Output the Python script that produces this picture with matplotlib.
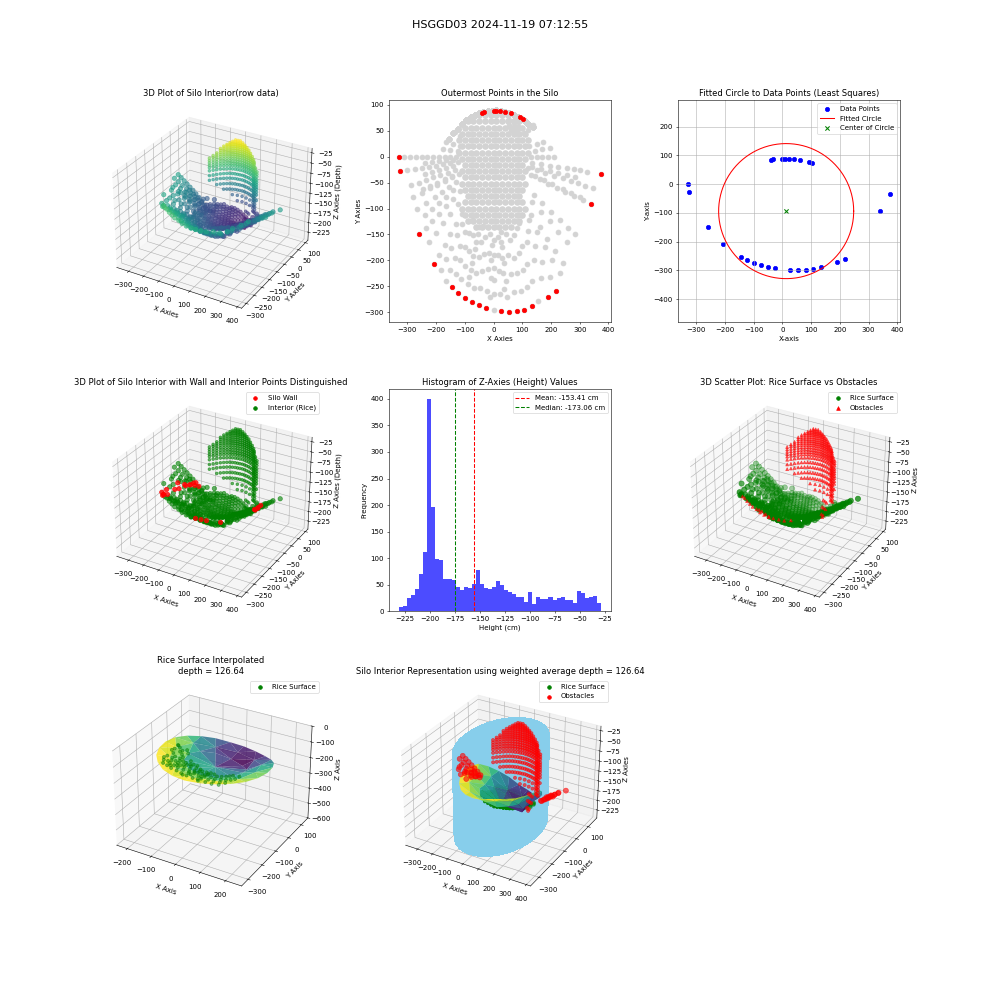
import numpy as np
import matplotlib
matplotlib.use("Agg")
import matplotlib.pyplot as plt

# back wall of the silo: points around the arc, and which of them show at each height
arc_x = [-155,-140,-125,-110,-95,-80,-65,-50,-35,-20,-5,10,25,40,55,70,85,100,108,120,136]
arc_y = [35,45,54,63,70,76,81,84,87,88,89,90,89,87,85,81,77,72,68,64,58]
arc_levels = [-29,-33,-37,-41,-45,-50,-55,-60,-65,-70,-76,-82,-88,-94,-102,-114,-126,-140,-154,-168,-182]
arc_start = [8,7,6,5,4,3,3,2,1,0,0,0,0,0,0,0,0,2,4,7,9]
arc_stop = [11,12,13,14,15,16,17,18,19,19,20,21,21,21,21,21,21,21,21,21,21]
arc_step = [1,1,1,1,1,1,1,1,1,1,1,1,1,1,1,1,1,1,1,2,2]

# extra wall points, the dense right edge and the pit below it
pit_x = [100,108,120,136,100,108,120,136,100,108,120,136,100,108,120,100,108,120,
    100,108,120,100,108,120,55,70,85,55,70,85,60,75,68]
pit_y = [72,68,64,58,72,68,64,58,72,68,64,58,72,68,64,72,68,64,
    72,68,64,72,68,64,70,65,60,62,58,54,52,48,50]
pit_z = [-108,-108,-108,-108,-120,-120,-120,-120,-133,-133,-133,-133,-147,-147,-147,-161,-161,-161,
    -175,-175,-175,-190,-190,-190,-195,-195,-195,-210,-210,-210,-225,-225,-231]

# scan rays running out from the middle to the rim
rim_x = [-329,-310,-290,-270,-250,-230,-210,-190,-170,-150,-130,
    -325,-300,-275,-250,-225,-200,-175,-150,-125,
    -287,-260,-235,-210,-185,-160,-135,
    -280,-250,-220,-195,-170,-145,-120,
    -265,-235,-205,-180,-155,-130,
    -260,-235,-215,-190,-165,-140,-115,
    -207,-190,-170,-150,-130,-110,
    -182,-165,-147,-128,-110,
    -144,-130,-115,-100,-85,-70,
    -124,-112,-100,-86,-72,
    -100,-90,-80,-70,-60,-50,
    -75,-68,-60,-52,-44,-36,
    -51,-46,-40,-34,-28,
    -27,-24,-20,-17,-14,
    0,0,0,0,0,0,
    25,24,20,17,14,
    53,48,42,36,30,25,
    81,72,62,52,42,
    105,95,82,70,58,
    133,118,103,88,72,
    189,165,140,115,90,
    217,195,170,145,120,95,
    243,215,187,160,132,
    285,260,230,200,170,140,
    338,310,280,250,220,190,160,130,
    345,320,295,270,240,210,180,150,120,
    374,325,300,280,255,225,195,165,135,
    210,190,170,150,130,
    -176,-150,-125,-165,-140,-115,-135,-115,
    195,170,145,171,150,125,136,120,105,
    -240,-215,-190,-165,-140,
    -240,-215,-190,-165,-140,
    -245,-220,-195,-170,-145,
    -240,-215,-190,-165,-140,
    -225,-200,-175,-150,-125,
    -165,-150,-135,-118,-100,
    285,255,225,195,165,135,
    300,270,240,205,175,145,
    255,225,195,165,135,
    230,205,180,150,125,
    155,135,118,100,82,
    -12,-10,-8,-6,
    38,34,30,26,
    -85,-75,-65,-55]
rim_y = [-1,0,0,0,0,0,0,0,0,0,0,
    -28,-26,-24,-21,-19,-17,-15,-13,-11,
    -55,-50,-45,-40,-35,-31,-26,
    -78,-70,-61,-54,-47,-40,-33,
    -100,-89,-77,-68,-58,-49,
    -150,-137,-125,-110,-96,-81,-67,
    -208,-190,-170,-150,-130,-110,
    -219,-198,-176,-152,-130,
    -252,-226,-200,-174,-148,-122,
    -264,-236,-211,-182,-152,
    -273,-245,-218,-191,-164,-136,
    -281,-254,-224,-194,-164,-134,
    -287,-254,-221,-188,-155,
    -293,-260,-216,-185,-150,
    -295,-265,-238,-215,-190,-160,
    -298,-265,-220,-190,-155,
    -300,-270,-240,-205,-175,-145,
    -298,-262,-226,-190,-150,
    -295,-260,-225,-195,-160,
    -289,-252,-218,-186,-152,
    -271,-235,-200,-165,-128,
    -260,-232,-203,-173,-143,-113,
    -205,-182,-158,-135,-112,
    -150,-137,-122,-106,-90,-74,
    -92,-84,-76,-68,-60,-52,-43,-35,
    -60,-56,-51,-47,-42,-37,-31,-26,-21,
    -34,-29,-26,-24,-22,-20,-17,-14,-12,
    0,0,0,0,0,
    15,13,11,29,25,21,48,40,
    16,14,12,29,25,21,61,52,45,
    -12,-10,-8,-7,-6,
    -33,-29,-25,-22,-18,
    -62,-56,-50,-43,-37,
    -112,-100,-89,-77,-65,
    -165,-147,-128,-110,-92,
    -240,-218,-196,-172,-146,
    -40,-36,-32,-28,-23,-19,
    -78,-70,-62,-53,-45,-38,
    -165,-145,-125,-106,-87,
    -225,-200,-175,-146,-122,
    -278,-240,-208,-172,-138,
    -270,-235,-200,-170,
    -255,-225,-195,-165,
    -232,-205,-178,-150]
rim_z = [-118,-124,-130,-136,-142,-148,-155,-162,-170,-178,-186,
    -118,-125,-132,-139,-147,-155,-163,-172,-182,
    -122,-130,-138,-147,-156,-166,-177,
    -120,-130,-140,-150,-160,-170,-182,
    -118,-128,-140,-150,-162,-174,
    -112,-122,-130,-141,-152,-164,-176,
    -108,-118,-130,-142,-154,-166,
    -106,-118,-130,-144,-158,
    -92,-108,-122,-136,-150,-164,
    -90,-106,-120,-136,-152,
    -88,-104,-120,-136,-150,-166,
    -90,-104,-120,-137,-153,-170,
    -92,-110,-128,-146,-164,
    -94,-112,-135,-152,-170,
    -96,-112,-126,-138,-152,-168,
    -100,-116,-138,-154,-172,
    -102,-118,-132,-150,-165,-180,
    -104,-122,-140,-158,-176,
    -106,-124,-142,-157,-174,
    -108,-126,-144,-160,-176,
    -110,-130,-148,-166,-184,
    -114,-128,-144,-160,-176,-190,
    -120,-136,-150,-165,-180,
    -118,-130,-144,-158,-172,-186,
    -122,-130,-140,-150,-160,-170,-180,-190,
    -122,-130,-138,-147,-156,-166,-176,-186,-195,
    -120,-132,-140,-146,-153,-163,-173,-183,-193,
    -170,-178,-186,-194,-200,
    -170,-182,-194,-172,-184,-196,-178,-190,
    -178,-190,-200,-180,-192,-202,-190,-198,-205,
    -145,-153,-161,-170,-180,
    -143,-151,-159,-168,-178,
    -135,-145,-155,-165,-175,
    -125,-137,-148,-158,-170,
    -118,-130,-143,-155,-168,
    -100,-114,-126,-140,-156,
    -140,-149,-159,-168,-178,-188,
    -132,-142,-152,-164,-174,-185,
    -125,-140,-153,-166,-180,
    -122,-134,-147,-162,-176,
    -112,-132,-150,-168,-182,
    -108,-124,-145,-162,
    -124,-136,-152,-170,
    -112,-126,-142,-158]

# rice floor, one line per y value
floor_x = [-50,-30,-10,10,30,50,
    -90,-70,-50,-30,-10,10,30,50,70,90,
    -100,-80,-60,-40,-20,0,20,40,60,80,100,
    -110,-90,-70,-50,-30,-10,10,30,50,70,90,110,
    -120,-100,-80,-60,-40,-20,0,20,40,60,80,100,120,
    -110,-90,-70,-50,-30,-10,10,30,50,70,90,110,
    -120,-100,-80,-60,-40,-20,0,20,40,60,80,100,120,
    -110,-90,-70,-50,-30,-10,10,30,50,70,90,110,
    -100,-80,-60,-40,-20,0,20,40,60,80,100,
    -110,-90,-70,-50,-30,-10,10,30,50,70,90,110,
    -100,-80,-60,-40,-20,0,20,40,60,80,100,
    -110,-90,-70,-50,-30,-10,10,30,50,70,90,110,
    -100,-80,-60,-40,-20,0,20,40,60,80,100,
    -90,-70,-50,-30,-10,10,30,50,70,90,
    -100,-80,-60,-40,-20,0,20,40,60,80,100,
    -110,-90,-70,-50,-30,-10,10,30,50,70,90,110,
    -100,-80,-60,-40,-20,0,20,40,60,80,100,
    -90,-70,-50,-30,-10,10,30,50,70,90,
    -60,-40,-20,0,20,40,60]
floor_y = [80,80,80,80,80,80,
    68,68,68,68,68,68,68,68,68,68,
    56,56,56,56,56,56,56,56,56,56,56,
    44,44,44,44,44,44,44,44,44,44,44,44,
    32,32,32,32,32,32,32,32,32,32,32,32,32,
    20,20,20,20,20,20,20,20,20,20,20,20,
    8,8,8,8,8,8,8,8,8,8,8,8,8,
    -4,-4,-4,-4,-4,-4,-4,-4,-4,-4,-4,-4,
    -16,-16,-16,-16,-16,-16,-16,-16,-16,-16,-16,
    -28,-28,-28,-28,-28,-28,-28,-28,-28,-28,-28,-28,
    -40,-40,-40,-40,-40,-40,-40,-40,-40,-40,-40,
    -52,-52,-52,-52,-52,-52,-52,-52,-52,-52,-52,-52,
    -64,-64,-64,-64,-64,-64,-64,-64,-64,-64,-64,
    -76,-76,-76,-76,-76,-76,-76,-76,-76,-76,
    -88,-88,-88,-88,-88,-88,-88,-88,-88,-88,-88,
    -100,-100,-100,-100,-100,-100,-100,-100,-100,-100,-100,-100,
    -112,-112,-112,-112,-112,-112,-112,-112,-112,-112,-112,
    -124,-124,-124,-124,-124,-124,-124,-124,-124,-124,
    -136,-136,-136,-136,-136,-136,-136]
floor_z = [-200,-200,-202,-205,-210,-215,
    -192,-196,-198,-200,-202,-205,-210,-216,-222,-218,
    -190,-194,-197,-199,-201,-204,-208,-215,-224,-222,-212,
    -186,-190,-194,-198,-200,-202,-206,-212,-222,-224,-214,-205,
    -182,-188,-192,-196,-199,-201,-204,-210,-218,-220,-212,-204,-198,
    -184,-190,-194,-198,-200,-202,-206,-212,-216,-210,-204,-198,
    -180,-186,-190,-195,-198,-200,-202,-206,-210,-208,-203,-198,-194,
    -182,-188,-192,-196,-199,-200,-202,-204,-205,-202,-198,-194,
    -182,-186,-191,-195,-198,-199,-200,-201,-200,-197,-192,
    -178,-182,-187,-191,-194,-197,-198,-199,-199,-197,-193,-188,
    -178,-184,-188,-192,-195,-196,-197,-197,-196,-192,-188,
    -172,-176,-182,-186,-190,-193,-194,-195,-195,-193,-189,-184,
    -172,-177,-182,-187,-190,-192,-193,-193,-191,-188,-184,
    -170,-175,-180,-184,-187,-189,-190,-189,-187,-183,
    -162,-166,-172,-177,-181,-184,-186,-186,-184,-181,-176,
    -158,-163,-168,-173,-177,-180,-182,-182,-181,-178,-174,-170,
    -160,-164,-168,-172,-175,-177,-178,-178,-176,-172,-168,
    -158,-162,-166,-170,-173,-174,-174,-172,-168,-164,
    -166,-168,-170,-172,-171,-169,-166]

# outermost points, used by the 2D panels
outer_x = [-40,-32,0,8,22,39,60,92,102,-329,-325,374,338,-260,-207,-144,-124,-100,-75,-51,-27,25,53,81,105,133,189,217]
outer_y = [85,87,89,89,89,87,84,76,72,-1,-28,-34,-92,-150,-208,-252,-264,-273,-281,-287,-293,-298,-300,-298,-295,-289,-271,-260]

# fitted circle
circle_cx = 13
circle_cy = -94
circle_r = 235

# height histogram
hist_left = -231
hist_right = -29
hist_counts = [7,10,25,31,42,70,111,399,196,99,97,61,61,59,46,40,46,44,52,78,52,44,42,46,57,
    50,40,36,33,27,27,17,36,14,27,23,23,27,21,25,27,21,21,16,38,34,25,27,29,15]
z_mean = -153.41
z_median = -173.06
# where the two dashed lines sit on the axis in the picture
mean_line_x = -155.7
median_line_x = -175.4
avg_depth = 126.64

# interpolated rice surface
surf_x = [218,211,190,158,116,66,13,-40,-90,-132,-165,-185,-192,-185,-165,-132,-90,-40,13,66,116,158,190,211,
    173,152,93,13,-67,-126,-147,-126,-67,13,93,152,
    123,108,68,13,-42,-82,-97,-82,-42,13,68,108,13]
surf_y = [-94,-41,9,51,84,104,111,104,84,51,9,-41,-94,-147,-197,-239,-272,-292,-299,-292,-272,-239,-197,-147,
    -94,-14,45,66,45,-14,-94,-174,-233,-254,-233,-174,
    -94,-39,1,16,1,-39,-94,-149,-189,-204,-189,-149,-94]
surf_z = [-125,-135,-155,-180,-200,-205,-200,-190,-170,-150,-130,-112,-104,-100,-100,-100,-102,-102,-102,-100,-100,-105,-112,-118,
    -140,-165,-205,-205,-190,-145,-120,-115,-115,-118,-120,-130,
    -165,-195,-220,-210,-185,-160,-140,-132,-135,-140,-150,-155,-178]

dome_x, dome_y, dome_z = list(pit_x), list(pit_y), list(pit_z)
for level, start, stop, step in zip(arc_levels, arc_start, arc_stop, arc_step):
    dome_x += arc_x[start:stop:step]
    dome_y += arc_y[start:stop:step]
    dome_z += [level] * len(arc_x[start:stop:step])

x = np.array(dome_x + rim_x + floor_x, dtype=float)
y = np.array(dome_y + rim_y + floor_y, dtype=float)
z = np.array(dome_z + rim_z + floor_z, dtype=float)
n_dome, n_rim = len(dome_x), len(rim_x)
dist = np.hypot(x - circle_cx, y - circle_cy)

is_dome = np.zeros(len(x), dtype=bool)
is_dome[:n_dome] = True
is_rim = np.zeros(len(x), dtype=bool)
is_rim[n_dome:n_dome + n_rim] = True
is_floor = ~is_dome & ~is_rim

sizes = np.full(len(x), 28.0)
sizes[is_dome] = 16
sizes[is_rim] = 40

wall = np.abs(dist - circle_r) < 14
obstacles = is_dome | (y < -262)
outside = is_dome | ((dist > 225) & (y > -120))


def add_legend(ax, flip=False):
    handles, labels = ax.get_legend_handles_labels()
    if flip:
        handles, labels = handles[::-1], labels[::-1]
    leg = ax.legend(handles, labels, loc="upper right")
    for h in leg.legend_handles:
        h.set_sizes([28])
        h.set_alpha(1)


fig = plt.figure(figsize=(20, 20), dpi=50)
fig.suptitle("HSGGD03 2024-11-19 07:12:55", fontsize=16)
fig.subplots_adjust(left=0.1, right=0.9, top=0.9, bottom=0.1, wspace=0.3, hspace=0.3)

# raw data
ax = fig.add_subplot(3, 3, 1, projection="3d")
ax.scatter(x, y, z, c=z, cmap="viridis", s=sizes, alpha=0.6)
ax.set_title("3D Plot of Silo Interior(row data)")
ax.set_xlabel("X Axies")
ax.set_ylabel("Y Axies")
ax.set_zlabel("Z Axies (Depth)")

# outermost points
ax = fig.add_subplot(3, 3, 2)
ax.scatter(x[is_floor], y[is_floor], color="lightgray", s=90, linewidths=0)
ax.scatter(x[~is_floor], y[~is_floor], color="lightgray", s=50)
ax.scatter(outer_x, outer_y, color="red", s=38)
ax.set_title("Outermost Points in the Silo")
ax.set_xlabel("X Axies")
ax.set_ylabel("Y Axies")

# circle fit
ax = fig.add_subplot(3, 3, 3)
theta = np.linspace(0, 2 * np.pi, 200)
ax.scatter(outer_x, outer_y, color="blue", s=38, label="Data Points")
ax.plot(circle_cx + circle_r * np.cos(theta), circle_cy + circle_r * np.sin(theta),
        color="red", label="Fitted Circle")
ax.scatter([circle_cx], [circle_cy], color="green", marker="x", s=38, label="Center of Circle")
ax.set_title("Fitted Circle to Data Points (Least Squares)")
ax.set_xlabel("X-axis")
ax.set_ylabel("Y-axis")
ax.axis("equal")
ax.grid(True)
ax.legend(loc="upper right")

# wall vs interior
ax = fig.add_subplot(3, 3, 4, projection="3d")
ax.scatter(x[~wall], y[~wall], z[~wall], color="green", s=sizes[~wall], alpha=0.6, label="Interior (Rice)")
ax.scatter(x[wall], y[wall], z[wall], color="red", s=sizes[wall], alpha=0.8, label="Silo Wall")
ax.set_title("3D Plot of Silo Interior with Wall and Interior Points Distinguished")
ax.set_xlabel("X Axies")
ax.set_ylabel("Y Axies")
ax.set_zlabel("Z Axies (Depth)")
add_legend(ax, flip=True)

# histogram
ax = fig.add_subplot(3, 3, 5)
edges = np.linspace(hist_left, hist_right, len(hist_counts) + 1)
ax.hist(edges[:-1], bins=edges, weights=hist_counts, color="blue", alpha=0.7)
ax.axvline(mean_line_x, color="red", linestyle="--", linewidth=1.5, label=f"Mean: {z_mean:.2f} cm")
ax.axvline(median_line_x, color="green", linestyle="--", linewidth=1.5, label=f"Median: {z_median:.2f} cm")
ax.set_title("Histogram of Z-Axies (Height) Values")
ax.set_xlabel("Height (cm)")
ax.set_ylabel("Frequency")
ax.legend(loc="upper right")

# rice vs obstacles
ax = fig.add_subplot(3, 3, 6, projection="3d")
ax.scatter(x[obstacles], y[obstacles], z[obstacles], color="red", marker="^", s=18, alpha=0.6, label="Obstacles")
ax.scatter(x[~obstacles], y[~obstacles], z[~obstacles], color="green", s=sizes[~obstacles] * 1.4, label="Rice Surface")
ax.set_title("3D Scatter Plot: Rice Surface vs Obstacles")
ax.set_xlabel("X Axies")
ax.set_ylabel("Y Axies")
ax.set_zlabel("Z Axies")
add_legend(ax, flip=True)

# interpolated surface
ax = fig.add_subplot(3, 3, 7, projection="3d", computed_zorder=False)
ax.plot_trisurf(surf_x, surf_y, surf_z, cmap="viridis", alpha=0.85, linewidth=0, zorder=1)
front = is_rim & (dist < 190) & (y < -40) & (x < 130)
ax.scatter(x[front], y[front], z[front] + 8, color="green", s=20, alpha=0.5, label="Rice Surface", zorder=2)
ax.set_title(f"Rice Surface Interpolated\ndepth = {avg_depth:.2f}")
ax.set_xlabel("X Axis")
ax.set_ylabel("Y Axis")
ax.set_zlabel("Z Axis")
ax.set_xlim(-245, 262)
ax.set_ylim(-345, 155)
ax.set_zlim(-600, 0, view_margin=0)
add_legend(ax)

# final representation
ax = fig.add_subplot(3, 3, 8, projection="3d", computed_zorder=False)
cyl_theta, cyl_z = np.meshgrid(np.linspace(0, 2 * np.pi, 120), np.linspace(z.min(), z.max(), 40))
ax.plot_surface(circle_cx + circle_r * np.cos(cyl_theta), circle_cy + circle_r * np.sin(cyl_theta), cyl_z,
                color="skyblue", shade=False, linewidth=0, antialiased=False, rstride=1, cstride=1, zorder=1)
ax.scatter(x[is_floor], y[is_floor], z[is_floor], color="green", s=20, label="Rice Surface", zorder=2)
ax.plot_trisurf(surf_x, surf_y, surf_z, cmap="viridis", alpha=0.9, linewidth=0, zorder=3)
ax.scatter(x[outside], y[outside], z[outside], color="red", s=sizes[outside] * 1.3, alpha=0.6, label="Obstacles", zorder=4)
ax.set_title(f"Silo Interior Representation using weighted average depth = {avg_depth:.2f}")
ax.set_xlabel("X Axies")
ax.set_ylabel("Y Axies")
ax.set_zlabel("Z Axies")
add_legend(ax)

fig.savefig("out.png", dpi=50)
